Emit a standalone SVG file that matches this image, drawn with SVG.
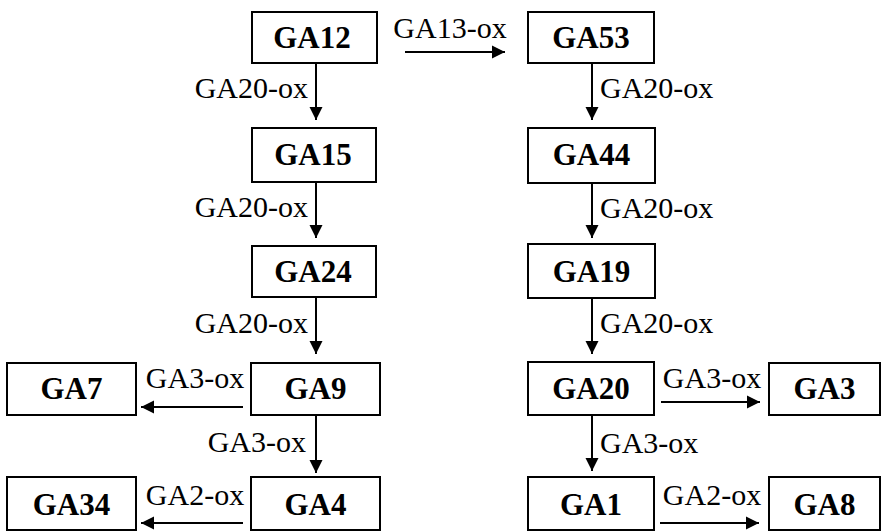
<svg xmlns="http://www.w3.org/2000/svg" width="885" height="532" viewBox="0 0 885 532">
  <style>
    .box { fill: #fff; stroke: #000; stroke-width: 2; }
    .name { font-size: 31px; font-weight: bold; text-anchor: middle; fill: #000; }
    .lbl { font-size: 30px; fill: #000; }
    .edge { stroke: #000; stroke-width: 2; fill: none; marker-end: url(#head); }
  </style>
  <defs>
    <marker id="head" markerUnits="userSpaceOnUse" markerWidth="14" markerHeight="14" refX="13" refY="7" orient="auto">
      <path d="M0,0.5 L13,7 L0,13.5 Z" fill="#000"/>
    </marker>
  </defs>
  <rect width="885" height="532" fill="#fff"/>

  <g id="edges" font-family="'Liberation Serif', 'Times New Roman', Times, 'DejaVu Serif', serif">
    <!-- left column -->
    <line class="edge" x1="316" y1="63" x2="316" y2="120"/>
    <line class="edge" x1="316" y1="182" x2="316" y2="238"/>
    <line class="edge" x1="316" y1="297" x2="316" y2="354"/>
    <line class="edge" x1="316" y1="415" x2="316" y2="473"/>
    <line class="edge" x1="243" y1="407" x2="141" y2="407"/>
    <line class="edge" x1="243" y1="523" x2="141" y2="523"/>
    <!-- top link -->
    <line class="edge" x1="405" y1="52" x2="505" y2="52"/>
    <!-- right column -->
    <line class="edge" x1="592" y1="63" x2="592" y2="120"/>
    <line class="edge" x1="592" y1="183" x2="592" y2="238"/>
    <line class="edge" x1="592" y1="298" x2="592" y2="354"/>
    <line class="edge" x1="592" y1="415" x2="592" y2="471"/>
    <line class="edge" x1="661" y1="402" x2="760" y2="402"/>
    <line class="edge" x1="660" y1="523" x2="759" y2="523"/>

    <text class="lbl" x="308" y="98" text-anchor="end">GA20-ox</text>
    <text class="lbl" x="308" y="217" text-anchor="end">GA20-ox</text>
    <text class="lbl" x="308" y="333" text-anchor="end">GA20-ox</text>
    <text class="lbl" x="306" y="452" text-anchor="end">GA3-ox</text>
    <text class="lbl" x="195" y="388" text-anchor="middle">GA3-ox</text>
    <text class="lbl" x="195" y="505" text-anchor="middle">GA2-ox</text>
    <text class="lbl" x="450" y="38" text-anchor="middle">GA13-ox</text>
    <text class="lbl" x="600" y="98">GA20-ox</text>
    <text class="lbl" x="600" y="218">GA20-ox</text>
    <text class="lbl" x="600" y="333">GA20-ox</text>
    <text class="lbl" x="600" y="453">GA3-ox</text>
    <text class="lbl" x="712" y="388" text-anchor="middle">GA3-ox</text>
    <text class="lbl" x="712" y="505" text-anchor="middle">GA2-ox</text>
  </g>

  <g id="nodes" font-family="'Liberation Serif', 'Times New Roman', Times, 'DejaVu Serif', serif">
    <g id="GA12"><rect class="box" x="252" y="12" width="125" height="51"/><text class="name" x="312" y="48">GA12</text></g>
    <g id="GA15"><rect class="box" x="252" y="128" width="124" height="54"/><text class="name" x="313" y="165">GA15</text></g>
    <g id="GA24"><rect class="box" x="252" y="246" width="124" height="51"/><text class="name" x="313" y="282">GA24</text></g>
    <g id="GA9"><rect class="box" x="251" y="363" width="129" height="52"/><text class="name" x="315.5" y="399">GA9</text></g>
    <g id="GA4"><rect class="box" x="251" y="477" width="129" height="53"/><text class="name" x="315.5" y="515">GA4</text></g>
    <g id="GA7"><rect class="box" x="7" y="363" width="129" height="52"/><text class="name" x="71.5" y="399">GA7</text></g>
    <g id="GA34"><rect class="box" x="7" y="477" width="129" height="53"/><text class="name" x="71.5" y="515">GA34</text></g>

    <g id="GA53"><rect class="box" x="528" y="12" width="126" height="51"/><text class="name" x="591" y="48">GA53</text></g>
    <g id="GA44"><rect class="box" x="528" y="128" width="127" height="55"/><text class="name" x="591.5" y="165">GA44</text></g>
    <g id="GA19"><rect class="box" x="528" y="244" width="127" height="54"/><text class="name" x="591.5" y="282">GA19</text></g>
    <g id="GA20"><rect class="box" x="528" y="362" width="126" height="53"/><text class="name" x="591" y="399">GA20</text></g>
    <g id="GA1"><rect class="box" x="528" y="477" width="126" height="53"/><text class="name" x="591" y="515">GA1</text></g>
    <g id="GA3"><rect class="box" x="769" y="363" width="111" height="52"/><text class="name" x="824.5" y="399">GA3</text></g>
    <g id="GA8"><rect class="box" x="769" y="477" width="111" height="53"/><text class="name" x="824.5" y="515">GA8</text></g>
  </g>
</svg>
